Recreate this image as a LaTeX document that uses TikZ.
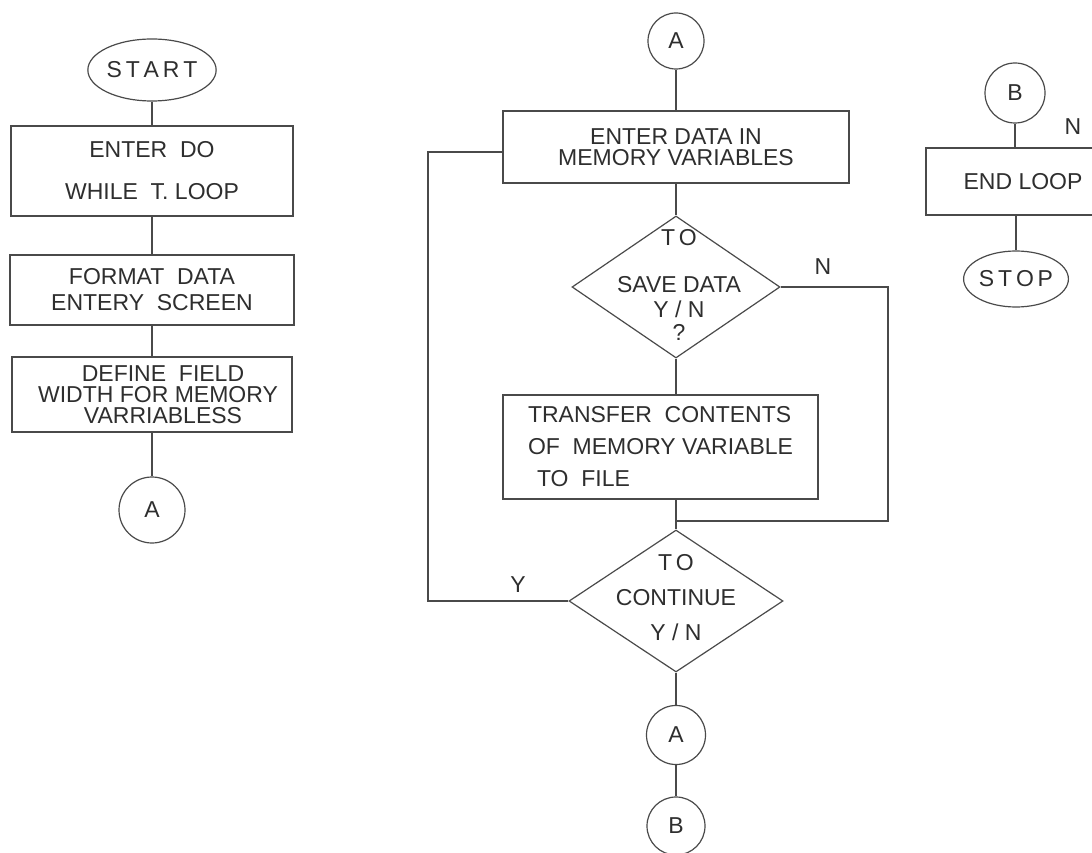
\documentclass[tikz,border=0pt]{standalone}
\usepackage{fontspec}
\setmainfont{Liberation Sans}
\usepackage{tikz}
\usetikzlibrary{positioning,shapes.geometric}
\definecolor{clInk}{HTML}{2E2E2E}
\definecolor{clLine}{HTML}{4A4A4A}
\newcommand{\chartfont}[1]{\fontsize{23}{#1}\selectfont}
\tikzset{
  box/.style={rectangle, draw=clLine, line width=1.2pt, align=center,
              inner sep=0pt, text=clInk, font=\chartfont{26}},
  term/.style={ellipse, draw=clLine, line width=1.2pt, inner sep=0pt,
               text=clInk, font=\chartfont{26}},
  conn/.style={circle, draw=clLine, line width=1.2pt, inner sep=0pt,
               minimum size=58pt, text=clInk, font=\chartfont{26}},
  decision/.style={diamond, draw=clLine, line width=1.2pt, inner sep=0pt},
  dtext/.style={align=center, text=clInk, inner sep=0pt},
  flow/.style={draw=clLine, line width=1.2pt},
  flowlabel/.style={text=clInk, font=\chartfont{26}, inner sep=0pt},
}
\begin{document}
\begin{tikzpicture}[x=1pt, y=-1pt]
  \useasboundingbox (0,0) rectangle (1092,853);
  % left column
  \node[term, minimum width=126pt, minimum height=62pt] (start) at (152,70) {S\,T\,A\,R\,T};
  \node[box, minimum width=282pt, minimum height=90pt] (enterdo) at (152,171)
    {ENTER~ DO\\[16pt]WHILE~ T. LOOP};
  \node[box, minimum width=284pt, minimum height=70pt] (format) at (152,290)
    {FORMAT~ DATA\\ENTERY~ SCREEN};
  \node[box, minimum width=280pt, minimum height=75pt, font=\chartfont{21}] (define) at (152,394.5)
    {\hspace*{22pt}DEFINE~ FIELD\\\hspace*{12pt}WIDTH FOR MEMORY\\\hspace*{22pt}VARRIABLESS};
  \node[conn, minimum size=66pt] (conal) at (152,510) {A};
  \draw[flow] (start) -- (enterdo);
  \draw[flow] (enterdo) -- (format);
  \draw[flow] (format) -- (define);
  \draw[flow] (define) -- (conal);
  % middle column
  \node[conn, minimum size=56pt] (conat) at (676,41) {A};
  \node[box, minimum width=346pt, minimum height=72pt, font=\chartfont{21}] (enterdata) at (676,147)
    {ENTER DATA IN\\MEMORY VARIABLES};
  \node[decision, minimum width=208pt, minimum height=142pt] (save) at (676,287) {};
  \node[dtext, font=\chartfont{25}] (saveq) at (679,285)
    {T\,O\\[22pt]SAVE DATA\\Y / N\\[-2pt]?};
  \node[box, minimum width=315pt, minimum height=104pt, align=left, font=\chartfont{28}] (transfer) at (660.5,447)
    {TRANSFER~ CONTENTS\\[4pt]OF~ MEMORY VARIABLE\\[4pt]\hspace*{9pt}TO~ FILE};
  \node[decision, minimum width=214pt, minimum height=142pt] (cont) at (676,601) {};
  \node[dtext, font=\chartfont{35}] (contq) at (676,598)
    {T\,O\\CONTINUE\\Y / N};
  \node[conn, minimum size=59pt] (conab) at (676,735) {A};
  \node[conn, minimum size=58pt] (conb) at (676,826) {B};
  \coordinate (njoin) at (888,521);
  \coordinate (junc) at (676,521);
  \coordinate (yleft) at (428,152);
  \draw[flow] (conat) -- (enterdata);
  \draw[flow] (enterdata) -- (save);
  \draw[flow] (save.south) -- (save.south |- transfer.north);
  \draw[flow] (save.south |- transfer.south) -- (cont.north);
  \draw[flow] (save.east) -| (njoin) -- (junc);
  \draw[flow] (cont.west) -| (yleft) -- ([yshift=-5pt]enterdata.west);
  \draw[flow] (cont) -- (conab);
  \draw[flow] (conab) -- (conb);
  \node[flowlabel] (nsave) at (823,267) {N};
  \node[flowlabel] (ycont) at (518,585) {Y};
  % right column
  \node[conn, minimum size=60pt] (conbr) at (1015,93) {B};
  \node[box, minimum width=194pt, minimum height=67pt] (endloop) at (1023,181.5) {END LOOP};
  \node[term, minimum width=93pt, minimum height=56pt] (stop) at (1016,279) {S\,T\,O\,P};
  \draw[flow] (conbr) -- (conbr |- endloop.north);
  \draw[flow] (stop |- endloop.south) -- (stop);
  \node[flowlabel] (nend) at (1073,127) {N};
\end{tikzpicture}
\end{document}
